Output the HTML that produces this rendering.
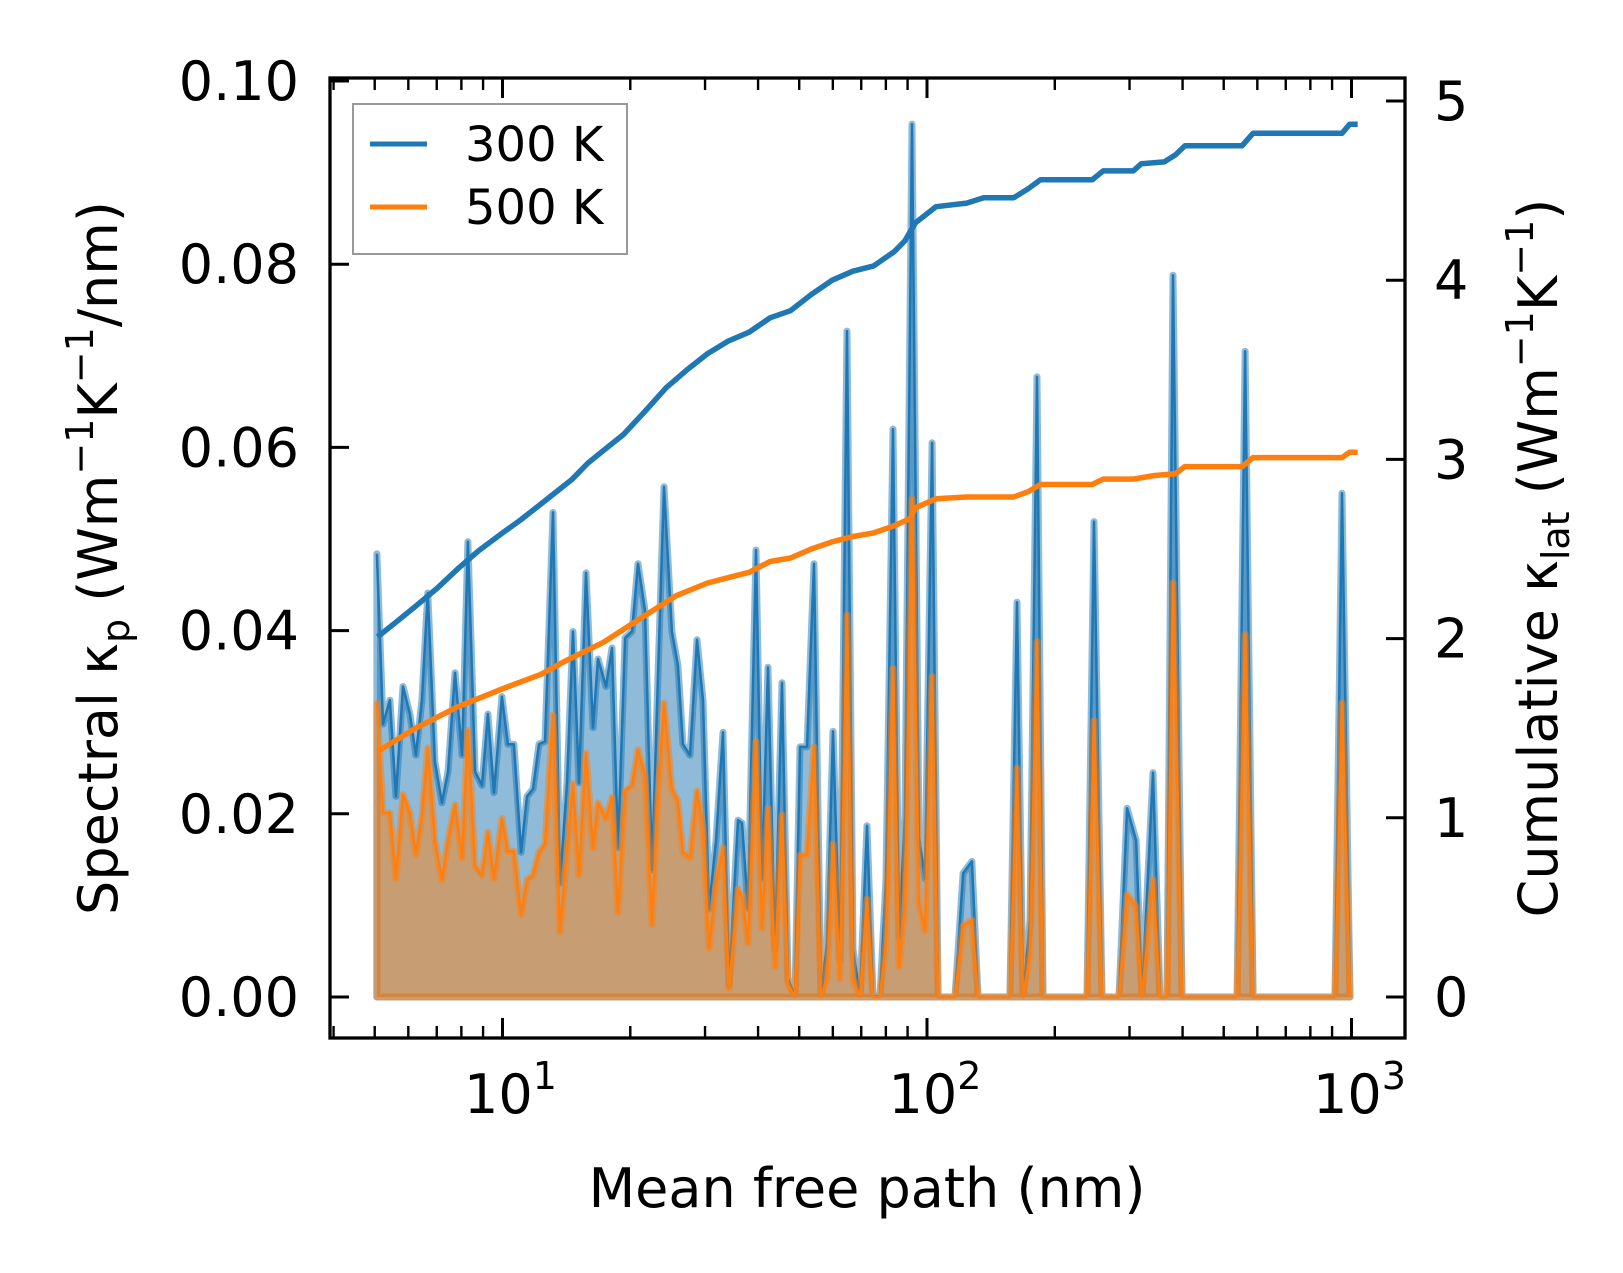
<!DOCTYPE html>
<html><head><meta charset="utf-8"><style>
html,body{margin:0;padding:0;background:#fff;}
svg{display:block;font-family:"DejaVu Sans","Liberation Sans",sans-serif;}
</style></head><body>
<svg id="chart" width="1623" height="1273" viewBox="0 0 1623 1273" xmlns="http://www.w3.org/2000/svg">
<g id="plot"></g>
<g id="axes"></g>
</svg>
<script>
// ---- data ----
const mfpNm = [5.06,5.23,5.43,5.61,5.83,6.05,6.25,6.46,6.67,6.93,7.20,7.44,7.73,8.03,8.29,8.62,8.95,9.24,9.55,9.97,10.30,10.64,11.06,11.42,11.80,12.19,12.59,13.15,13.66,14.19,14.66,15.14,15.73,16.34,16.79,17.53,18.11,18.71,19.44,20.19,20.86,21.66,22.50,23.24,24.01,25.07,25.90,26.61,27.65,28.72,29.67,30.66,31.84,33.07,34.17,35.88,
36.67,37.88,39.56,40.87,42.22,43.85,45.55,47.05,48.87,50.22,52.16,54.18,56.27,58.13,60.06,62.39,64.79,66.93,69.53,72.22,74.61,77.49,80.05,83.15,85.91,88.77,92.18,95.76,98.92,102.8,106.2,116.4,121.6,127.6,131.9,156.8,162.9,168.3,174.8,181.6,187.6,238.2,247.4,258.4,283.4,296.0,310.8,321.0,340.8,353.9,367.6,379.7,398.7,537.6,561.4,586.3,914.4,949.8,992.0];
const spectral300 = [0.0484,0.0298,0.0324,0.0219,0.0339,0.0309,0.0264,0.0324,0.0441,0.0257,0.0212,0.0246,0.0354,0.0264,0.0497,0.0246,0.0231,0.0309,0.0223,0.0328,0.0276,0.0276,0.0158,0.0219,0.0227,0.0276,0.0279,0.0529,0.0124,0.0234,0.0399,0.0234,0.0463,0.0294,0.0369,0.0339,0.0381,0.0163,0.0392,0.0399,0.0473,0.0422,0.0139,0.0351,0.0557,0.0399,0.0362,0.0276,0.0264,0.0390,0.0324,0.0096,0.0171,0.0289,0.0013,0.0193,
0.0190,0.0097,0.0488,0.0129,0.0360,0.0052,0.0343,0.0020,0.0001,0.0273,0.0273,0.0473,0.0001,0.0059,0.0290,0.0040,0.0727,0.0052,0.0001,0.0187,0.0001,0.0001,0.0129,0.0620,0.0065,0.0200,0.0953,0.0174,0.0129,0.0605,0,0,0.0135,0.0148,0,0,0.0431,0,0.0084,0.0677,0,0,0.0519,0,0,0.0206,0.0171,0,0.0245,0,0,0.0788,0,0,0.0705,0,0,0.0550,0];
const spectral500 = [0.0321,0.0201,0.0201,0.0129,0.0221,0.0201,0.0156,0.0197,0.0272,0.0171,0.0128,0.0171,0.0210,0.0152,0.0291,0.0143,0.0133,0.0180,0.0129,0.0195,0.0159,0.0159,0.0090,0.0128,0.0133,0.0158,0.0167,0.0308,0.0071,0.0159,0.0233,0.0133,0.0266,0.0163,0.0212,0.0195,0.0218,0.0092,0.0225,0.0231,0.0270,0.0242,0.0079,0.0221,0.0321,0.0227,0.0214,0.0158,0.0152,0.0225,0.0186,0.0053,0.0124,0.0163,0.0009,0.0118,
0.0110,0.0059,0.0279,0.0075,0.0206,0.0033,0.0199,0.0014,0,0.0155,0.0155,0.0273,0,0.0020,0.0167,0.0020,0.0417,0.0020,0,0.0107,0,0,0.0059,0.0359,0.0033,0.0100,0.0544,0.0104,0.0072,0.0350,0,0,0.0078,0.0084,0,0,0.0250,0,0.0046,0.0388,0,0,0.0302,0,0,0.0112,0.0099,0,0.0128,0,0,0.0452,0,0,0.0396,0,0,0.0321,0];
const cumX300 = [5.08,5.60,6.24,7.01,7.85,8.78,10.0,11.0,12.3,13.4,14.6,15.9,17.3,19.3,21.7,24.3,27.2,30.4,34.0,38.1,42.7,47.7,53.4,59.8,66.9,74.9,83.8,88.7,93.9,105,124,136,160,173,185,245,260,306,320,362,385,405,552,586,950,990,1034];
const cum300 = [2.01,2.09,2.18,2.28,2.39,2.49,2.59,2.66,2.75,2.82,2.89,2.98,3.05,3.14,3.27,3.40,3.50,3.59,3.66,3.71,3.79,3.83,3.92,4.00,4.05,4.08,4.16,4.22,4.32,4.41,4.43,4.46,4.46,4.51,4.56,4.56,4.61,4.61,4.65,4.66,4.70,4.75,4.75,4.82,4.82,4.87,4.87];
const cumX500 = [5.08,6.24,7.85,10.0,12.3,14.2,17.3,21.7,25.7,30.4,34.0,38.1,42.7,47.7,53.4,59.8,66.9,74.9,83.8,91.3,93.9,105,124,160,173,185,245,260,306,344,385,405,552,586,950,990,1034];
const cum500 = [1.37,1.50,1.62,1.72,1.80,1.88,1.98,2.13,2.24,2.31,2.34,2.37,2.43,2.45,2.50,2.54,2.57,2.59,2.63,2.67,2.73,2.78,2.79,2.79,2.82,2.86,2.86,2.89,2.89,2.91,2.92,2.96,2.96,3.01,3.01,3.04,3.04];
const yTicksLeft = [0,0.02,0.04,0.06,0.08,0.10];
const yTickLabelsLeft = ["0.00","0.02","0.04","0.06","0.08","0.10"];
const yTicksRight = [0,1,2,3,4,5];
const xDecades = [1,2,3];

// ---- axes geometry ----
const L=330,R=1405,T=78,B=1038;
const X = v => 502.5 + (Math.log10(v)-1)*424.5;
const Y = v => 997 - v/0.02*183.2;
const Y2 = v => 997 - v*179.2;
const NS="http://www.w3.org/2000/svg";
const plot=document.getElementById('plot'), axes=document.getElementById('axes');
function mk(tag,attrs,parent){const e=document.createElementNS(NS,tag);for(const k in attrs)e.setAttribute(k,attrs[k]);parent.appendChild(e);return e;}

function drawSpectral(vals,color,key){
  let pts=mfpNm.map((m,i)=>X(m).toFixed(1)+','+Y(vals[i]).toFixed(1));
  const poly=pts.join(' ')+' '+X(mfpNm[mfpNm.length-1]).toFixed(1)+','+Y(0)+' '+X(mfpNm[0]).toFixed(1)+','+Y(0);
  const f=mk('polygon',{points:poly,fill:color,'fill-opacity':0.5,stroke:color,'stroke-opacity':0.5,'stroke-width':7,'stroke-linejoin':'round'},plot);
  
  
  const l=mk('polyline',{points:pts.join(' '),fill:'none',stroke:color,'stroke-width':2.5,'stroke-linejoin':'round'},plot);
  
  
}
drawSpectral(spectral300,'#1f77b4','k300');
drawSpectral(spectral500,'#ff7f0e','k500');

function drawCum(xs,vals,color,key){
  const pts=xs.map((m,i)=>X(m).toFixed(1)+','+Y2(vals[i]).toFixed(1)).join(' ');
  const l=mk('polyline',{points:pts,fill:'none',stroke:color,'stroke-width':5.5,'stroke-linejoin':'round'},plot);
  
  
}
drawCum(cumX300,cum300,'#1f77b4','k300');
drawCum(cumX500,cum500,'#ff7f0e','k500');

// frame
const fr=mk('rect',{x:L,y:T,width:R-L,height:B-T,fill:'none',stroke:'#000','stroke-width':3.3},axes);



// left ticks
yTicksLeft.forEach((v,i)=>{
  const y=Y(v);
  const t=mk('line',{x1:L,x2:L+19,y1:y,y2:y,stroke:'#000','stroke-width':3},axes);
  
  
  const tx=mk('text',{x:299,y:y+19,'text-anchor':'end','font-size':54},axes);
  tx.textContent=yTickLabelsLeft[i];
  
  
});
// right ticks
yTicksRight.forEach(v=>{
  const y=Y2(v);
  const t=mk('line',{x1:R-19,x2:R,y1:y,y2:y,stroke:'#000','stroke-width':3},axes);
  
  
  const tx=mk('text',{x:1434,y:y+19,'font-size':54},axes);
  tx.textContent=String(v);
  
  
});
// x ticks (top and bottom)
for(let d=0;d<=3;d++){
  for(let k=1;k<=9;k++){
    const v=k*Math.pow(10,d);
    const x=X(v);
    if(x<L+1||x>R-1)continue;
    const len=k===1?20:12;
    [[B,B-len],[T,T+len]].forEach(([a,b])=>{
      const t=mk('line',{x1:x,x2:x,y1:a,y2:b,stroke:'#000','stroke-width':k===1?3:2.4},axes);
      
      
    });
  }
}
xDecades.forEach(e=>{
  const x=X(Math.pow(10,e));
  const tx=mk('text',{x:x+8,y:1113,'text-anchor':'middle','font-size':54},axes);
  tx.innerHTML='10<tspan dy="-24" font-size="38">'+e+'</tspan>';
  
  
});
</script>
<!-- static labels -->
<svg style="position:absolute;left:0;top:0" width="1623" height="1273" viewBox="0 0 1623 1273" xmlns="http://www.w3.org/2000/svg" font-family="DejaVu Sans, Liberation Sans, sans-serif">
<text x="867" y="1207" text-anchor="middle" font-size="54">Mean free path (nm)</text>
<text transform="translate(117,558) rotate(-90)" text-anchor="middle" font-size="54">Spectral κ<tspan dy="12" font-size="38">p</tspan><tspan dy="-12"> (Wm</tspan><tspan dy="-24" font-size="38">−1</tspan><tspan dy="24">K</tspan><tspan dy="-24" font-size="38">−1</tspan><tspan dy="24">/nm)</tspan></text>
<text transform="translate(1557,558) rotate(-90)" text-anchor="middle" font-size="54">Cumulative κ<tspan dy="12" font-size="38">lat</tspan><tspan dy="-12"> (Wm</tspan><tspan dy="-24" font-size="38">−1</tspan><tspan dy="24">K</tspan><tspan dy="-24" font-size="38">−1</tspan><tspan dy="24">)</tspan></text>
<g>
<rect x="353" y="104" width="274" height="150" fill="#fff" fill-opacity="0.8" stroke="#999" stroke-width="2"/>
<line x1="370" x2="427" y1="144" y2="144" stroke="#1f77b4" stroke-width="5"/>
<text x="465" y="161" font-size="48">300 K</text>
<line x1="370" x2="427" y1="207" y2="207" stroke="#ff7f0e" stroke-width="5"/>
<text x="465" y="224" font-size="48">500 K</text>
</g>
</svg>
</body></html>
